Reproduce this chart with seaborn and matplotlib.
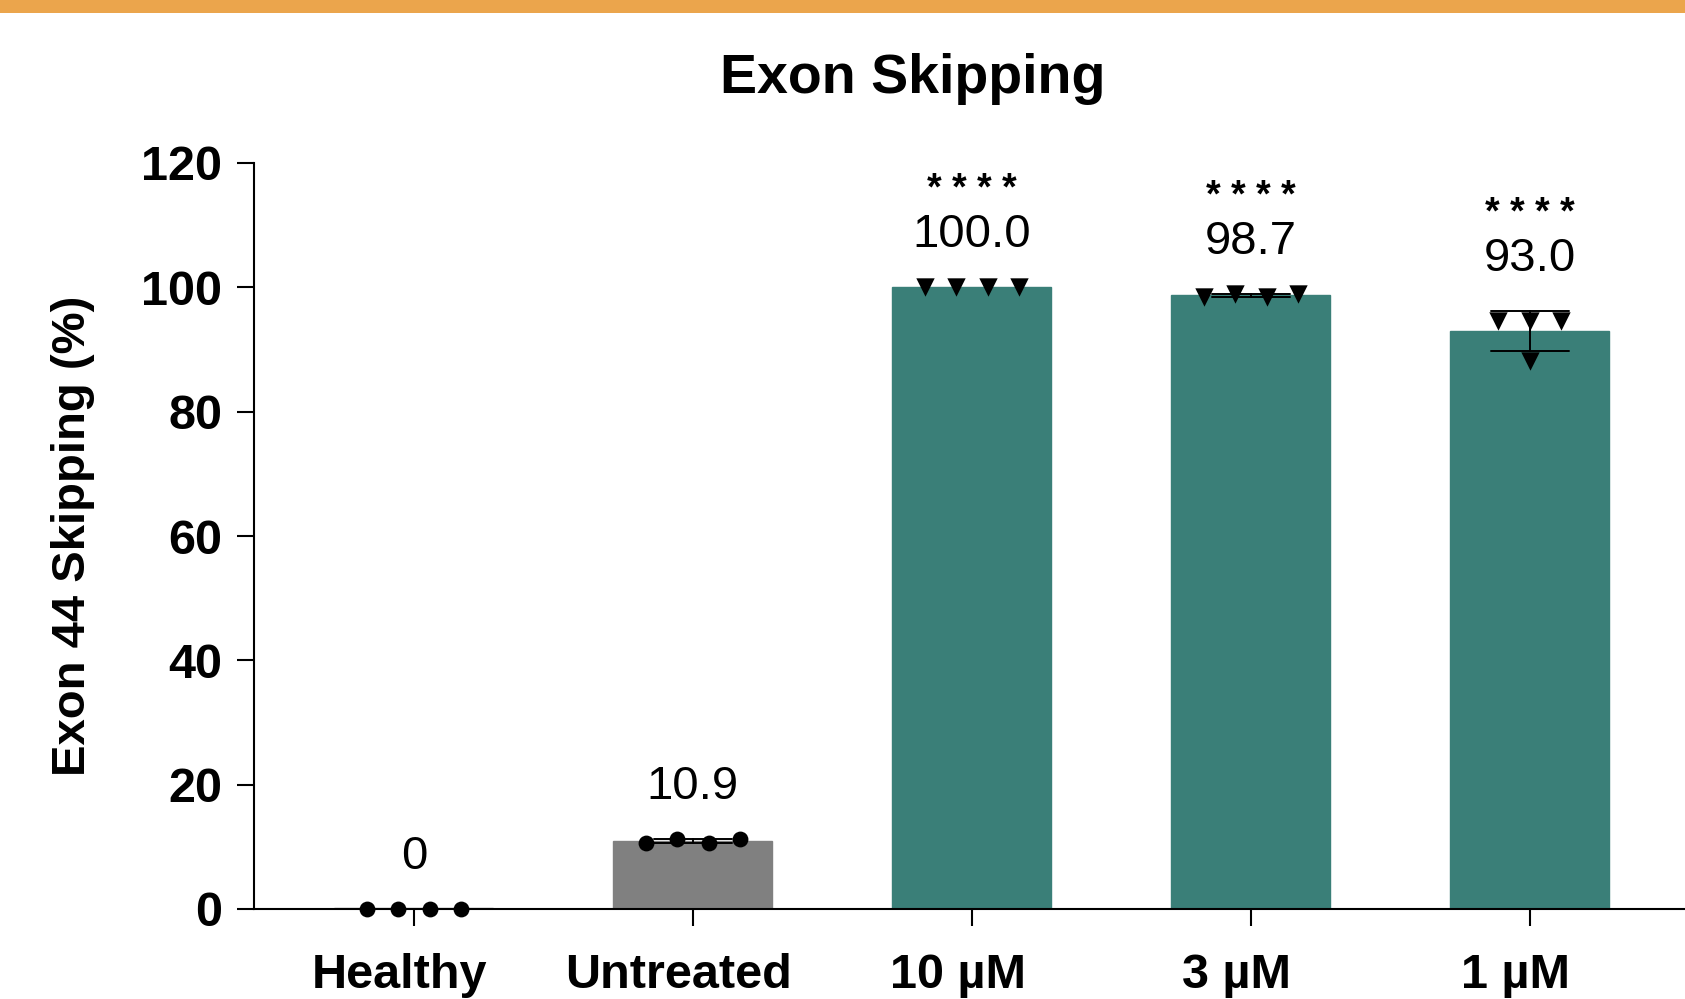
import numpy as np
import pandas as pd
import matplotlib
matplotlib.use("Agg")
import matplotlib.pyplot as plt
import matplotlib.transforms as mtransforms
from matplotlib.patches import Rectangle
import seaborn as sns

# data (4 replicates per group)
groups = ["Healthy", "Untreated", "10 µM", "3 µM", "1 µM"]
healthy = [0.0, 0.0, 0.0, 0.0]
untreated = [10.6, 11.2, 10.6, 11.2]
dose_10 = [100.0, 100.0, 100.0, 100.0]
dose_3 = [98.5, 98.9, 98.5, 98.9]
dose_1 = [94.6, 94.6, 94.6, 88.2]
mean_labels = ["0", "10.9", "100.0", "98.7", "93.0"]
stars = ["", "", "* * * *", "* * * *", "* * * *"]

bar_colors = ["#e3e3e3", "#808080", "#3a7f78", "#3a7f78", "#3a7f78"]
markers = ["o", "o", "v", "v", "v"]
marker_sizes = [130, 130, 175, 175, 175]

reps = [healthy, untreated, dose_10, dose_3, dose_1]
df = pd.DataFrame({
    "group": np.repeat(groups, [len(r) for r in reps]),
    "value": np.concatenate(reps),
})

sns.set_theme(style="ticks")
plt.rcParams["font.family"] = ["Liberation Sans", "DejaVu Sans"]
plt.rcParams.update({"text.color": "black", "axes.labelcolor": "black",
                     "xtick.color": "black", "ytick.color": "black"})


def spread(vals, step=0.113, tol=2.0):
    # prism-like column scatter: points with similar values sit side by side
    vals = np.asarray(vals)
    offs = np.zeros(len(vals))
    used = np.zeros(len(vals), bool)
    for i in range(len(vals)):
        if used[i]:
            continue
        idx = np.where((~used) & (np.abs(vals - vals[i]) < tol))[0]
        used[idx] = True
        offs[idx] = (np.arange(len(idx)) - (len(idx) - 1) / 2) * step
    return offs


fig = plt.figure(figsize=(16.85, 9.99), dpi=100)
ax = fig.add_axes([254 / 1685, 90 / 999, 1 - 254 / 1685, 746 / 999])

sns.barplot(data=df, x="group", y="value", order=groups, hue="group",
            palette=bar_colors, legend=False, width=0.57, saturation=1,
            errorbar="sd", capsize=0.28,
            err_kws={"color": "black", "linewidth": 1.4}, ax=ax)
for p in ax.patches:
    p.set_edgecolor(p.get_facecolor())
    p.set_linewidth(3.5 if p.get_height() == 0 else 1.0)
# no error bar drawn where SD is zero
for ln in ax.lines:
    y = np.asarray(ln.get_ydata(), float)
    if np.nanmax(y) - np.nanmin(y) < 1e-9:
        ln.set_visible(False)

for i, vals in enumerate(reps):
    ax.scatter(i + spread(vals), vals, marker=markers[i], s=marker_sizes[i],
               color="black", linewidths=0, zorder=5, clip_on=False)
    top = np.mean(vals) + np.std(vals, ddof=1)
    ax.text(i, top + 8.4, mean_labels[i], ha="center", va="center", fontsize=34)
    if stars[i]:
        ax.text(i, top + 15.6, stars[i], ha="center", va="center", fontsize=27,
                fontweight="bold")

ax.set_ylim(0, 120)
ax.set_yticks(range(0, 121, 20))
ax.set_xlim(-0.573, 4.556)
ax.set_xlabel("")
ax.set_ylabel("Exon 44 Skipping (%)", fontsize=34, fontweight="bold")
ax.yaxis.set_label_coords(-0.111, 0.5)
ax.tick_params(axis="both", length=12, width=1.5, labelsize=35, color="black")
ax.tick_params(axis="y", pad=11)
ax.tick_params(axis="x", pad=20)
shift = mtransforms.ScaledTranslation(-0.14, 0, fig.dpi_scale_trans)
for lab in ax.get_xticklabels():
    lab.set_fontweight("bold")
    lab.set_transform(lab.get_transform() + shift)
for lab in ax.get_yticklabels():
    lab.set_fontweight("bold")

sns.despine(ax=ax)
for s in ["left", "bottom"]:
    ax.spines[s].set_linewidth(1.5)
    ax.spines[s].set_color("black")

fig.text(913 / 1685, 1 - 93 / 999, "Exon Skipping", ha="center", va="baseline",
         fontsize=40, fontweight="bold")
fig.patches.append(Rectangle((0, 1 - 13 / 999), 1, 13 / 999, transform=fig.transFigure,
                             facecolor="#eba54c", edgecolor="none"))

fig.savefig("out.png", dpi=100)
